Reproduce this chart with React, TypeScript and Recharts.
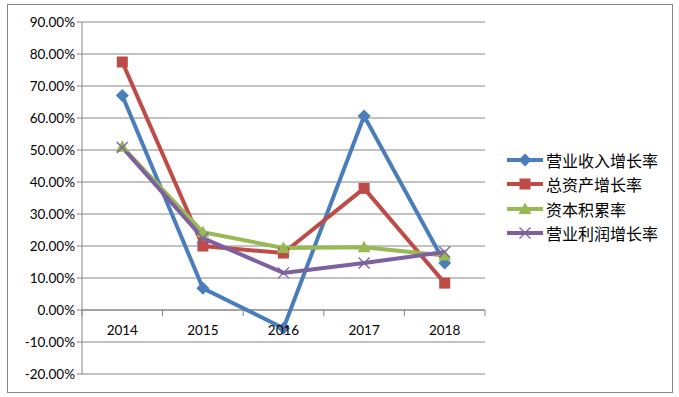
import React from 'react';
import { LineChart, Line, XAxis, YAxis, CartesianGrid, ReferenceLine } from 'recharts';

// values
const years = ['2014', '2015', '2016', '2017', '2018'];
const revenueGrowth = [0.67, 0.068, -0.057, 0.606, 0.147];
const assetGrowth = [0.775, 0.2, 0.178, 0.38, 0.084];
const capitalAccum = [0.51, 0.243, 0.194, 0.196, 0.17];
const profitGrowth = [0.508, 0.225, 0.116, 0.147, 0.181];
const yTicks = [-0.2, -0.1, 0, 0.1, 0.2, 0.3, 0.4, 0.5, 0.6, 0.7, 0.8, 0.9];

const seriesNames = ['营业收入增长率', '总资产增长率', '资本积累率', '营业利润增长率'];

const data = years.map((year, i) => ({
  year,
  revenue: revenueGrowth[i],
  asset: assetGrowth[i],
  capital: capitalAccum[i],
  profit: profitGrowth[i],
}));

const W = 679;
const H = 397;
const X_AXIS_H = 23;
const M = { top: 22, right: 194, bottom: 0, left: 0 };
const Y_AXIS_W = 82;
const plotW = W - M.left - M.right - Y_AXIS_W;
const plotH = H - M.top - M.bottom - X_AXIS_H;
const yMin = -0.2;
const yMax = 0.9;
// distance from bottom of plot to the 0% line
const zeroOffset = (plotH * (0 - yMin)) / (yMax - yMin);
const band = plotW / years.length;

const axisColor = '#868686';
const font = 'Lato, "Liberation Sans", sans-serif';

const colors = {
  revenue: '#4A7EBB',
  asset: '#BE4B48',
  capital: '#98B954',
  profit: '#7D60A0',
};

const Diamond = ({ cx, cy, fill }: any) => (
  <path d={`M${cx},${cy - 6.5}L${cx + 6.5},${cy}L${cx},${cy + 6.5}L${cx - 6.5},${cy}Z`} fill={fill} />
);
const Square = ({ cx, cy, fill }: any) => <rect x={cx - 5.5} y={cy - 5.5} width={11} height={11} fill={fill} />;
const Triangle = ({ cx, cy, fill }: any) => (
  <path d={`M${cx},${cy - 6.5}L${cx + 6.5},${cy + 5}L${cx - 6.5},${cy + 5}Z`} fill={fill} />
);
const Cross = ({ cx, cy, stroke }: any) => (
  <path d={`M${cx - 5.5},${cy - 5.5}L${cx + 5.5},${cy + 5.5}M${cx + 5.5},${cy - 5.5}L${cx - 5.5},${cy + 5.5}`} stroke={stroke} strokeWidth={1.3} fill="none" />
);

const shapes = [Diamond, Square, Triangle, Cross];
const keys: (keyof typeof colors)[] = ['revenue', 'asset', 'capital', 'profit'];

const YearTick = (props: any) => {
  const { x, payload, index } = props;
  const axisY = M.top + plotH - zeroOffset;
  const left = x - band / 2;
  return (
    <g>
      <line x1={left} y1={axisY} x2={left} y2={axisY + 6} stroke={axisColor} />
      {index === years.length - 1 && (
        <line x1={x + band / 2} y1={axisY} x2={x + band / 2} y2={axisY + 6} stroke={axisColor} />
      )}
      <text x={x} y={axisY + 25} textAnchor="middle" fontSize={13.5} fontFamily={font} fill="#000">
        {payload.value}
      </text>
    </g>
  );
};

const LegendBox = () => (
  <div
    style={{
      position: 'absolute',
      left: 506,
      top: 148,
      fontFamily: '"Noto Sans CJK SC", sans-serif',
      fontSize: 16,
      color: '#000',
    }}
  >
    {keys.map((k, i) => {
      const Shape = shapes[i];
      return (
        <div key={k} style={{ display: 'flex', alignItems: 'center', height: 24.3 }}>
          <svg width={38} height={14} style={{ marginRight: 2 }}>
            <line x1={1} y1={7} x2={37} y2={7} stroke={colors[k]} strokeWidth={4} />
            <Shape cx={19} cy={7} fill={colors[k]} stroke={colors[k]} />
          </svg>
          <span>{seriesNames[i]}</span>
        </div>
      );
    })}
  </div>
);

export default function App() {
  return (
    <div style={{ position: 'absolute', left: 0, top: 0, width: W, height: H, background: '#fff' }}>
      <div
        style={{
          position: 'absolute',
          left: 7,
          top: 4,
          width: 664,
          height: 387,
          border: `1px solid ${axisColor}`,
        }}
      />
      <div style={{ position: 'absolute', left: 0, top: 0 }}>
        <LineChart width={W} height={H} data={data} margin={M}>
          <CartesianGrid vertical={false} stroke={axisColor} strokeWidth={1} />
          <XAxis
            dataKey="year"
            height={X_AXIS_H}
            axisLine={false}
            tickLine={false}
            tick={<YearTick />}
            interval={0}
            padding={{ left: band / 2, right: band / 2 }}
          />
          <YAxis
            width={Y_AXIS_W}
            domain={[yMin, yMax]}
            ticks={yTicks}
            interval={0}
            axisLine={{ stroke: axisColor }}
            tickLine={{ stroke: axisColor }}
            tickSize={5}
            tick={{ fontSize: 13.5, fontFamily: font, fill: '#000' }}
            tickFormatter={(v: number) => (v * 100).toFixed(2) + '%'}
          />
          <ReferenceLine y={0} stroke={axisColor} />
          {keys.map((k, i) => {
            const Shape = shapes[i];
            return (
              <Line
                key={k}
                dataKey={k}
                name={seriesNames[i]}
                stroke={colors[k]}
                strokeWidth={4}
                dot={(p: any) => <Shape key={p.index} cx={p.cx} cy={p.cy} fill={colors[k]} stroke={colors[k]} />}
                activeDot={false}
                isAnimationActive={false}
              />
            );
          })}
        </LineChart>
      </div>
      <LegendBox />
    </div>
  );
}
